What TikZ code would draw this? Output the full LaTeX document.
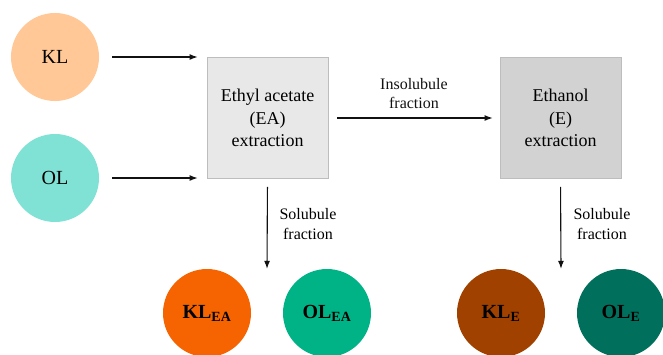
\documentclass[tikz,border=0pt]{standalone}
\usepackage{fontspec}
\setmainfont{LiberationSerif}[Extension=.ttf, UprightFont=*-Regular, BoldFont=*-Bold]
\usetikzlibrary{arrows.meta, positioning, calc}
\definecolor{klpeach}{HTML}{FFC896}
\definecolor{olaqua}{HTML}{80E2D4}
\definecolor{klea}{HTML}{F56400}
\definecolor{olea}{HTML}{00B386}
\definecolor{kle}{HTML}{A14100}
\definecolor{ole}{HTML}{00705C}
\definecolor{boxline}{HTML}{BDBDBD}
\definecolor{eafill}{HTML}{E8E8E8}
\definecolor{efill}{HTML}{D2D2D2}
\definecolor{inkline}{HTML}{111111}
\newcommand{\lignin}[4]{%
  \node[circle, fill=#3, minimum size=88pt, inner sep=0pt,
        font=\fontsize{20}{22}\selectfont] (#1) at (#2) {#4};}
\newcommand{\extbox}[4]{%
  \node[draw=boxline, line width=0.9pt, fill=#3, minimum width=121pt,
        minimum height=121pt, align=center, font=\fontsize{18}{22.5}\selectfont] (#1) at (#2) {#4};}

\begin{document}
\begin{tikzpicture}[x=1pt, y=-1pt, font=\fontsize{16}{19.5}\selectfont]
      \useasboundingbox (0,0) rectangle (663,354);
      \clip (0,0) rectangle (663,354);
      \tikzset{flow/.style={-{Latex[length=8pt, width=6pt]}, inkline, line width=1.1pt}}
      % feedstocks
      \lignin{kl}{55,57}{klpeach}{KL}
      \lignin{ol}{55,178}{olaqua}{OL}
      % extraction steps
      \extbox{ea}{267.5,118}{eafill}{Ethyl acetate\\(EA)\\extraction}
      \extbox{et}{560.5,118}{efill}{Ethanol\\(E)\\extraction}
      % products
      \lignin{klea}{207,313}{klea}{\bfseries KL\textsubscript{EA}}
      \lignin{olea}{327,313}{olea}{\bfseries OL\textsubscript{EA}}
      \lignin{kle}{501,313}{kle}{\bfseries KL\textsubscript{E}}
      \lignin{ole}{621,313}{ole}{\bfseries OL\textsubscript{E}}
      \coordinate (eaout) at ($(klea.north)!0.5!(olea.north)$);
      \coordinate (etout) at ($(kle.north)!0.5!(ole.north)$);
      % connectors
      \draw[flow, shorten <=13pt, shorten >=9pt] (kl.east) -- (kl.east -| ea.west);
      \draw[flow, shorten <=13pt, shorten >=9pt] (ol.east) -- (ol.east -| ea.west);
      \draw[flow, shorten <=9pt, shorten >=7pt] (ea) -- node[above=5pt, align=center] (insol) {Insolubule\\fraction} (et);
      \draw[flow, shorten <=8pt] (ea.south) -- (eaout);
      \draw[flow, shorten <=8pt] (et.south) -- (etout);
      \node[align=center] (sol1) at (308,224) {Solubule\\fraction};
      \node[align=center] (sol2) at (602,224) {Solubule\\fraction};
    \end{tikzpicture}
\end{document}
